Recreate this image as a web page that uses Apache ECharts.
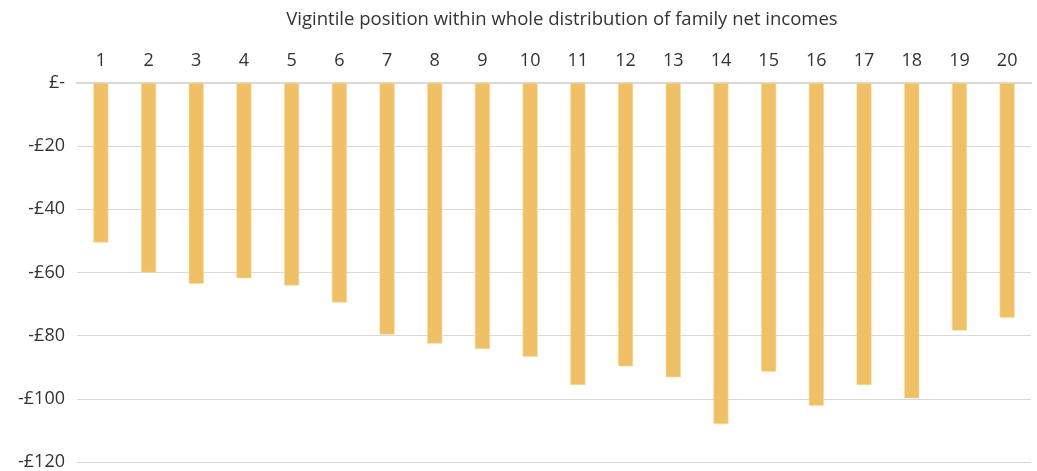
<!DOCTYPE html>
<html>
<head>
<meta charset="utf-8">
<script src="https://cdn.jsdelivr.net/npm/echarts@6/dist/echarts.min.js"></script>
<style>
  html, body { margin: 0; padding: 0; background: #fff; }
  #chart { width: 1037px; height: 471px; }
</style>
</head>
<body>
<div id="chart"></div>
<script>
// vigintiles 1..20
const vigintiles = ["1", "2", "3", "4", "5", "6", "7", "8", "9", "10",
  "11", "12", "13", "14", "15", "16", "17", "18", "19", "20"];
// weekly change in family net income, £
const change = [-50.5, -60, -63.6, -61.8, -64.1, -69.5, -79.6, -82.5, -84.2, -86.7,
  -95.6, -89.7, -93.2, -108, -91.4, -102.2, -95.6, -99.8, -78.4, -74.3];
const axisTitle = "Vigintile position within whole distribution of family net incomes";

const font = "'Open Sans', 'Noto Sans', sans-serif";

const chart = echarts.init(document.getElementById("chart"));
chart.setOption({
  animation: false,
  textStyle: { fontFamily: font },
  title: {
    text: axisTitle,
    left: 557,
    textAlign: "center",
    top: 5,
    textStyle: { fontSize: 18.5, fontWeight: "normal", color: "#333", fontFamily: font },
  },
  grid: { left: 77, right: 6, top: 83, bottom: 9 },
  xAxis: {
    type: "category",
    position: "top",
    data: vigintiles,
    axisLine: { show: true, lineStyle: { color: "#d9d9d9", width: 2 } },
    axisTick: { show: false },
    axisLabel: { color: "#333", fontSize: 18, margin: 13 },
  },
  yAxis: {
    type: "value",
    min: -120,
    max: 0,
    interval: 20,
    axisLine: { show: false },
    axisTick: { show: false },
    splitLine: { lineStyle: { color: "#d9d9d9" } },
    axisLabel: {
      color: "#333",
      fontSize: 18,
      margin: 12,
      formatter: (v) => (v === 0 ? "£-" : "-£" + Math.abs(v)),
    },
  },
  series: [
    {
      type: "bar",
      data: change,
      barWidth: 15,
      itemStyle: { color: "#f0c066", borderColor: "#f7dca0", borderWidth: 0.5 },
    },
  ],
});
</script>
</body>
</html>
